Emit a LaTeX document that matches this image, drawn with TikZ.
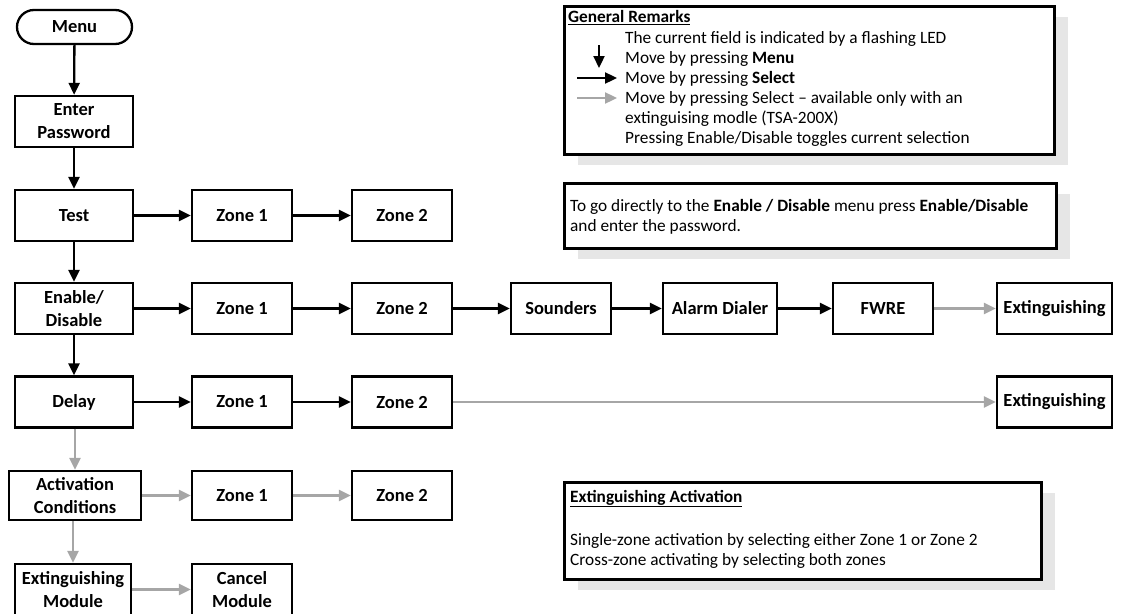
\documentclass[tikz,border=0pt]{standalone}
\usepackage{fontspec}
\setmainfont{Carlito}
\usetikzlibrary{arrows.meta,shadows}
\definecolor{arrgray}{HTML}{A6A6A6}
\definecolor{shgray}{HTML}{E6E6E6}
\begin{document}
\begin{tikzpicture}[x=1pt,y=-1pt,
  flowbox/.style={draw,line width=2.3pt,font=\bfseries\fontsize{18.5}{23}\selectfont,align=center,inner sep=0pt,minimum height=51pt,minimum width=100pt},
  blk/.style={line width=2.3pt,-{Triangle[length=12pt,width=11pt]}},
  gry/.style={blk,color=arrgray},
  rbox/.style={draw,line width=2.8pt,fill=white,anchor=north west,inner sep=0pt,drop shadow={shadow xshift=14pt,shadow yshift=-11pt,fill=shgray,opacity=1}},
  rtxt/.style={anchor=base west,inner sep=0pt,font=\fontsize{17.3}{20}\selectfont}]
\useasboundingbox (0,0) rectangle (1121,613);
% main column
\node[flowbox,minimum width=115pt,minimum height=34pt,rounded corners=17pt] (menu) at (74.5,27) {Menu};
\node[flowbox,minimum width=118pt] (pw) at (74,121.5) {Enter\\Password};
\node[flowbox,minimum width=118pt] (test) at (74,215.5) {Test};
\node[flowbox,minimum width=118pt] (en) at (74,308.5) {Enable/\\Disable};
\node[flowbox,minimum width=118pt] (delay) at (74,402) {Delay};
\node[flowbox,minimum width=132pt,minimum height=49pt] (act) at (75,495.5) {Activation\\Conditions};
\node[flowbox,minimum width=116pt] (ext) at (73,589.5) {Extinguishing\\Module};
% test row
\node[flowbox] (tz1) at (242,215.5) {Zone 1};
\node[flowbox] (tz2) at (402,215.5) {Zone 2};
% enable row
\node[flowbox] (ez1) at (242,308.5) {Zone 1};
\node[flowbox] (ez2) at (402,308.5) {Zone 2};
\node[flowbox] (snd) at (561,308.5) {Sounders};
\node[flowbox,minimum width=114pt] (dial) at (720,308.5) {Alarm Dialer};
\node[flowbox] (fwre) at (883,308.5) {FWRE};
\node[flowbox,minimum width=115pt] (eext) at (1054.5,308.5) {Extinguishing};
% delay row
\node[flowbox] (dz1) at (242,402) {Zone 1};
\node[flowbox] (dz2) at (402,402) {Zone 2};
\node[flowbox,minimum width=115pt] (dext) at (1054.5,402) {Extinguishing};
% activation row
\node[flowbox,minimum height=49pt] (az1) at (242,495.5) {Zone 1};
\node[flowbox,minimum height=49pt] (az2) at (402,495.5) {Zone 2};
% module row
\node[flowbox] (cancel) at (242,589.5) {Cancel\\Module};
% vertical arrows
\draw[blk] (menu) -- (pw);
\draw[blk] (pw) -- (test);
\draw[blk] (test) -- (en);
\draw[blk] (en) -- (delay);
\draw[gry] (delay.south -| act.north) -- (act.north);
\draw[gry] (act.south -| ext.north) -- (ext.north);
% horizontal arrows
\draw[blk] (test) -- (tz1);
\draw[blk] (tz1) -- (tz2);
\draw[blk] (en) -- (ez1);
\draw[blk] (ez1) -- (ez2);
\draw[blk] (ez2) -- (snd);
\draw[blk] (snd) -- (dial);
\draw[blk] (dial) -- (fwre);
\draw[gry] (fwre) -- (eext);
\draw[blk] (delay) -- (dz1);
\draw[blk] (dz1) -- (dz2);
\draw[gry] (dz2) -- (dext);
\draw[gry] (act) -- (az1);
\draw[gry] (az1) -- (az2);
\draw[gry] (ext.east |- cancel.west) -- (cancel.west);
% general remarks
\node[rbox,minimum width=490pt,minimum height=148pt] (rem) at (563,5) {};
\node[rtxt,font=\bfseries\fontsize{17.3}{20}\selectfont] (remt) at (568,23) {\underline{General Remarks}};
\node[rtxt] (rem1) at (625,43) {The current field is indicated by a flashing LED};
\node[rtxt] (rem2) at (625,63) {Move by pressing \textbf{Menu}};
\node[rtxt] (rem3) at (625,83) {Move by pressing \textbf{Select}};
\node[rtxt] (rem4) at (625,103) {Move by pressing Select – available only with an};
\node[rtxt] (rem5) at (625,123) {extinguising modle (TSA-200X)};
\node[rtxt] (rem6) at (625,143) {Pressing Enable/Disable toggles current selection};
\coordinate (l1a) at (599,45); \coordinate (l1b) at (599,68);
\coordinate (l2a) at (577,78); \coordinate (l2b) at (617,78);
\coordinate (l3a) at (577,98); \coordinate (l3b) at (617,98);
\draw[blk] (l1a) -- (l1b);
\draw[blk] (l2a) -- (l2b);
\draw[gry] (l3a) -- (l3b);
% direct access note
\node[rbox,minimum width=492pt,minimum height=65pt] (dir) at (563,182) {};
\node[rtxt] (dir1) at (570,211) {To go directly to the \textbf{Enable / Disable} menu press \textbf{Enable/Disable}};
\node[rtxt] (dir2) at (570,231) {and enter the password.};
% extinguishing activation
\node[rbox,minimum width=477pt,minimum height=97pt] (xa) at (563,481) {};
\node[rtxt,font=\bfseries\fontsize{17.3}{20}\selectfont] (xat) at (570,502) {\underline{Extinguishing Activation}};
\node[rtxt] (xa1) at (570,545) {Single-zone activation by selecting either Zone 1 or Zone 2};
\node[rtxt] (xa2) at (570,565) {Cross-zone activating by selecting both zones};
\end{tikzpicture}
\end{document}
